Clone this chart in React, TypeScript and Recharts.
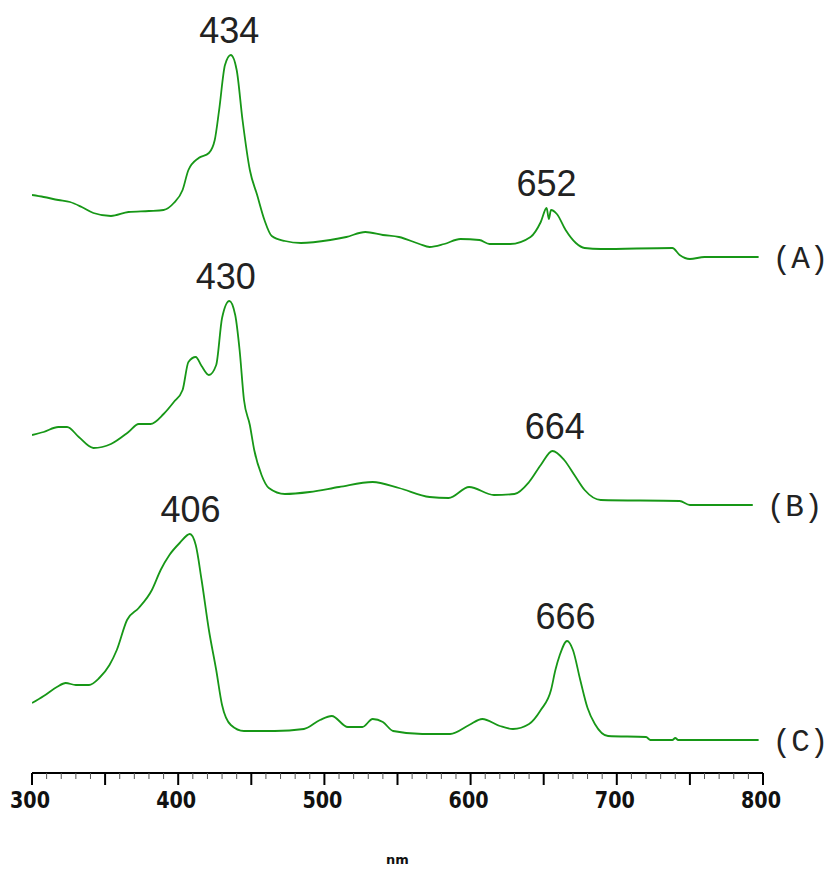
import { LineChart, Line, XAxis, YAxis, ReferenceDot } from "recharts";

// wavelengths (nm) and absorbance (arbitrary, offset per trace)
const aNm = [300, 308, 318, 326, 334, 342, 354, 366, 380, 390, 397, 403, 407, 414, 421, 425, 428, 432, 436, 440, 444, 449, 454, 459, 464, 473, 484, 504, 515, 528, 540, 551, 565, 572, 582, 593, 606, 613, 627, 641, 648, 652, 653.5, 655, 659, 665, 672, 678, 689, 738, 743, 750, 760, 797];
const aVal = [578, 576, 573, 571, 566, 560, 557, 561, 562, 563, 570, 583, 603, 615, 620, 633, 663, 708, 718, 703, 653, 603, 578, 553, 537, 532, 530, 533, 536, 541, 538, 536, 529, 526, 529, 534, 533, 529, 529, 536, 551, 565, 554, 563, 559, 543, 530, 525, 524, 525, 518, 514, 516, 516];

const bNm = [300, 308, 318, 324, 332, 342, 354, 366, 373, 381, 390, 397, 403, 407, 412, 416, 421, 426, 430, 435, 439, 442, 445, 449, 452, 457, 462, 473, 490, 510, 533, 551, 572, 585, 599, 616, 630, 640, 648, 656, 664, 671, 678, 689, 743, 750, 793];
const bVal = [338, 341, 346, 346, 336, 325, 329, 341, 349, 349, 359, 371, 383, 411, 416, 407, 398, 408, 455, 472, 458, 423, 373, 348, 323, 298, 285, 279, 281, 286, 291, 285, 276, 275, 286, 278, 279, 291, 308, 322, 313, 298, 283, 273, 272, 268, 268];

const cNm = [300, 308, 317, 323, 330, 339, 346, 353, 358, 365, 373, 382, 388, 394, 401, 408, 412, 416, 421, 426, 430, 436, 445, 466, 486, 497, 505, 516, 526, 533, 540, 547, 567, 586, 599, 608, 620, 629, 640, 648, 655, 658, 661, 666, 670, 675, 680, 685, 694, 720, 723, 738, 740, 742, 797];
const cVal = [70, 77, 86, 90, 88, 88, 95, 108, 123, 153, 165, 183, 203, 218, 230, 239, 228, 193, 143, 103, 68, 48, 42, 42, 44, 53, 57, 46, 46, 54, 51, 42, 39, 39, 48, 54, 47, 44, 49, 63, 83, 103, 118, 132, 123, 93, 65, 49, 37, 36, 33, 33, 35, 33, 33];

// peak annotations: text, wavelength, value
const peakText = ["434", "652", "430", "664", "406", "666"];
const peakNm = [435, 652, 432.5, 657.5, 408.5, 665];
const peakVal = [718, 565, 472, 322, 239, 132];

const traceNames = ["(A)", "(B)", "(C)"];
const majorTicks = [300, 400, 500, 600, 700, 800];
const minorTicks = Array.from({ length: 51 }, (_, i) => 300 + i * 10);

const toRows = (nm: number[], v: number[]) => nm.map((x, i) => ({ nm: x, v: v[i] }));
const traces = [toRows(aNm, aVal), toRows(bNm, bVal), toRows(cNm, cVal)];

const GREEN = "#179717";
const TICK_FONT = "'DejaVu Sans', sans-serif";

function AxisTick({ x, y, payload }: any) {
  const value = Number(payload.value);
  const len = value % 50 === 0 ? 12 : 6;
  return (
    <g>
      <line x1={x} x2={x} y1={y} y2={y + len} stroke={value % 50 === 0 ? "#000" : "#555"} strokeWidth={value % 50 === 0 ? 2 : 1} />
      {majorTicks.includes(value) && (
        <text
          x={x - 2}
          y={y + 35}
          textAnchor="middle"
          textLength={40}
          lengthAdjust="spacingAndGlyphs"
          fontFamily={TICK_FONT}
          fontWeight="bold"
          fontSize={23}
          fill="#111"
        >
          {value}
        </text>
      )}
    </g>
  );
}

export default function App() {
  return (
    <div style={{ position: "absolute", left: 0, top: 0, background: "#fff" }}>
      <LineChart width={833} height={877} margin={{ top: 10, right: 70, bottom: 74, left: 32 }}>
        <XAxis
          type="number"
          dataKey="nm"
          domain={[300, 800]}
          ticks={minorTicks}
          interval={0}
          tick={<AxisTick />}
          tickSize={0}
          tickMargin={0}
          tickLine={false}
          axisLine={{ stroke: "#000", strokeWidth: 2 }}
          height={30}
          allowDataOverflow
          label={{
            value: "nm",
            position: "bottom",
            offset: 52,
            fontFamily: TICK_FONT,
            fontWeight: "bold",
            fontSize: 13,
            fill: "#111"
          }}
        />
        <YAxis
          type="number"
          domain={[0, 763]}
          width={0}
          tick={false}
          tickLine={false}
          axisLine={{ stroke: "#000", strokeWidth: 2 }}
          allowDataOverflow
        />
        {traces.map((rows, i) => (
          <Line
            key={traceNames[i]}
            data={rows}
            dataKey="v"
            type="monotone"
            stroke={GREEN}
            strokeWidth={1.8}
            dot={false}
            activeDot={false}
            isAnimationActive={false}
          />
        ))}
        {peakText.map((t, i) => (
          <ReferenceDot
            key={t}
            x={peakNm[i]}
            y={peakVal[i]}
            r={0}
            stroke="none"
            ifOverflow="visible"
            label={{
              value: t,
              position: "top",
              offset: 12,
              fontFamily: "'Liberation Sans', Arial, sans-serif",
              fontSize: 36,
              fill: "#222"
            }}
          />
        ))}
        {traces.map((rows, i) => (
          <ReferenceDot
            key={"end" + i}
            x={rows[rows.length - 1].nm}
            y={rows[rows.length - 1].v}
            r={0}
            stroke="none"
            ifOverflow="visible"
            label={{
              value: traceNames[i],
              position: "right",
              offset: 14,
              fontFamily: "'Liberation Mono', monospace",
              fontSize: 31,
              fill: "#222"
            }}
          />
        ))}
      </LineChart>
    </div>
  );
}
